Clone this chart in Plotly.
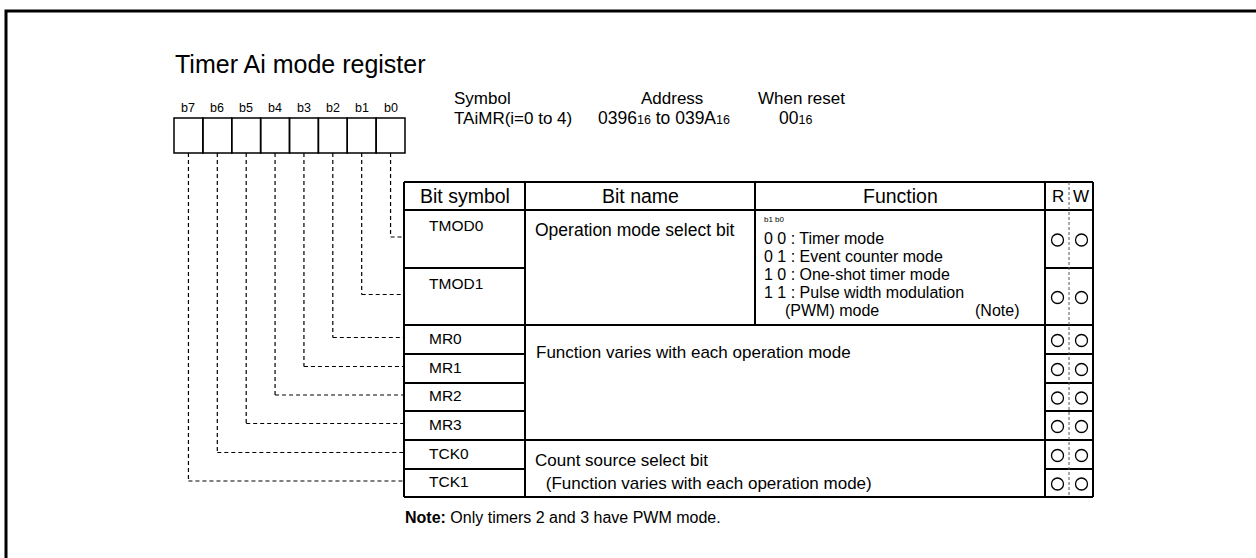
import plotly.graph_objects as go

# ---------------- data ----------------
title = "Timer Ai mode register"
bit_labels = ["b7", "b6", "b5", "b4", "b3", "b2", "b1", "b0"]
SUB = '<span style="font-size:12.5px">16</span>'
header_labels = ["Symbol", "Address", "When reset"]
header_values = ["TAiMR(i=0 to 4)", "0396" + SUB + " to 039A" + SUB, "00" + SUB]
col_titles = ["Bit symbol", "Bit name", "Function", "R", "W"]
bit_symbols = ["TMOD0", "TMOD1", "MR0", "MR1", "MR2", "MR3", "TCK0", "TCK1"]
bit_of_symbol = [0, 1, 2, 3, 4, 5, 6, 7]
readable = [True] * 8
writable = [True] * 8
bit_name_groups = [
    ["Operation mode select bit"],
    ["Function varies with each operation mode"],
    ["Count source select bit", " (Function varies with each operation mode)"],
]
function_head = "b1 b0"
function_lines = ["0 0 : Timer mode", "0 1 : Event counter mode",
                  "1 0 : One-shot timer mode", "1 1 : Pulse width modulation"]
function_tail = "(PWM) mode"
function_note = "(Note)"
note_text = "<b>Note:</b> Only timers 2 and 3 have PWM mode."

# ---------------- layout geometry ----------------
FONT = "Liberation Sans, Arial, sans-serif"
W, H = 1256, 558
box_x0, box_w, box_y0, box_y1 = 174, 28.875, 118, 153
cx = [404, 525, 755, 1045, 1093]
rw_mid = 1069
tbl_top, hdr_bot = 182, 210
row_edges = [210, 268, 325, 354, 383, 411, 440, 469, 497]
full_lines = {210, 325, 440, 497}

shapes = []
ann = []


def line(x0, y0, x1, y1, w=2, dash=None, color="black"):
    d = dict(type="line", xref="x", yref="y", x0=x0, y0=y0, x1=x1, y1=y1,
             line=dict(color=color, width=w))
    if dash:
        d["line"]["dash"] = dash
    shapes.append(d)


def text(x, y, s, size, xa="left", color="black"):
    ann.append(dict(x=x, y=y, xref="x", yref="y", text=s, showarrow=False,
                    xanchor=xa, yanchor="middle",
                    font=dict(family=FONT, size=size, color=color)))


# outer frame
shapes.append(dict(type="rect", xref="x", yref="y", x0=6, y0=11, x1=1320, y1=640,
                   line=dict(color="black", width=3)))

# title
text(173, 64, title, 25)

# bit boxes
for i, b in enumerate(bit_labels):
    x0 = box_x0 + i * box_w
    shapes.append(dict(type="rect", xref="x", yref="y", x0=x0, y0=box_y0,
                       x1=x0 + box_w, y1=box_y1, line=dict(color="black", width=1.5)))
    text(x0 + box_w / 2, 108, b, 12.5, xa="center")

# symbol / address / reset
hx = [452, 672, 756]
vx = [452, 596, 777]
for i in range(3):
    text(hx[i], 98, header_labels[i], 17, xa="center" if i == 1 else "left")
    text(vx[i], 118, header_values[i], 17.5 if i else 17)

# table borders
line(cx[0], tbl_top, cx[4], tbl_top)
for y in row_edges:
    if y in full_lines:
        line(cx[0], y, cx[4], y)
    else:
        line(cx[0], y, cx[1], y)
        line(cx[3], y, cx[4], y)
for x in [cx[0], cx[1], cx[3], cx[4]]:
    line(x, tbl_top, x, row_edges[-1])
line(cx[2], tbl_top, cx[2], 325)
line(rw_mid, tbl_top, rw_mid, row_edges[-1], w=1, dash="3px,2px", color="#555")

# column titles
hy = (tbl_top + hdr_bot) / 2
text((cx[0] + cx[1]) / 2, hy, col_titles[0], 19.5, xa="center")
text((cx[1] + cx[2]) / 2, hy, col_titles[1], 19.5, xa="center")
text((cx[2] + cx[3]) / 2, hy, col_titles[2], 19.5, xa="center")
text((cx[3] + rw_mid) / 2 + 1, hy, col_titles[3], 17, xa="center")
text((rw_mid + cx[4]) / 2, hy, col_titles[4], 17, xa="center")

# rows: symbols, connectors, R/W marks
rx, ry, wx, wy = [], [], [], []
for r, sym in enumerate(bit_symbols):
    top, bot = row_edges[r], row_edges[r + 1]
    mid = (top + bot) / 2
    big = (bot - top) > 40
    text(427, top + 15 if big else mid - 1.5, sym, 15.5)
    # connector from the bit box
    k = bit_of_symbol[r]
    bx = box_x0 + (7 - k) * box_w + box_w / 2
    yc = mid - 2
    line(bx, box_y1, bx, yc, w=1.2, dash="4px,3px")
    line(bx, yc, cx[0], yc, w=1.2, dash="4px,3px")
    if readable[r]:
        rx.append((cx[3] + rw_mid) / 2 + 0.5); ry.append(mid + 1)
    if writable[r]:
        wx.append((rw_mid + cx[4]) / 2 + 0.5); wy.append(mid + 1)

# bit names
text(533, 230, bit_name_groups[0][0], 17.5)
text(534, 352, bit_name_groups[1][0], 17)
text(533, 460, bit_name_groups[2][0], 17)
text(539, 483, bit_name_groups[2][1], 17)

# function column
text(762, 219, function_head, 8)
for i, s in enumerate(function_lines):
    text(762, 238 + 18 * i, s, 16)
text(783, 310, function_tail, 16)
text(1021, 310, function_note, 16, xa="right")

# note
text(403, 517, note_text, 16)

fig = go.Figure()
fig.add_trace(go.Scatter(x=rx + wx, y=ry + wy, mode="markers", hoverinfo="skip",
                         marker=dict(symbol="circle-open", size=12, color="black",
                                     line=dict(width=1.3, color="black"))))
fig.update_layout(
    width=W, height=H, margin=dict(l=0, r=0, t=0, b=0),
    paper_bgcolor="white", plot_bgcolor="white", showlegend=False,
    xaxis=dict(range=[0, W], visible=False, fixedrange=True),
    yaxis=dict(range=[H, 0], visible=False, fixedrange=True),
    shapes=shapes, annotations=ann,
)
fig.write_html("out.html", config={"displayModeBar": False},
               post_script="document.body.style.margin='0';document.body.style.overflow='hidden';")
